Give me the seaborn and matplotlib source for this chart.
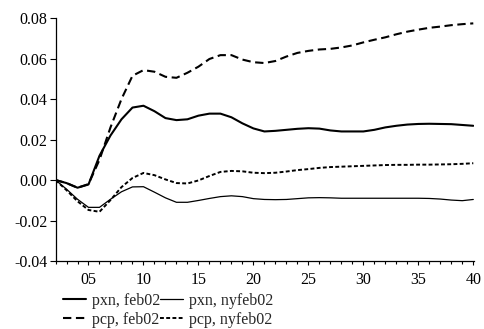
import numpy as np
import pandas as pd
import matplotlib
matplotlib.use("Agg")
import matplotlib.pyplot as plt
import seaborn as sns
from matplotlib.ticker import MultipleLocator, FixedLocator

horizon = list(range(2, 41))

pxn_feb02 = [0.0, -0.0015, -0.0038, -0.0022, 0.012, 0.022, 0.030, 0.0358, 0.0367, 0.034,
             0.0306, 0.0296, 0.030, 0.0318, 0.0328, 0.0328, 0.031, 0.028, 0.0255, 0.024,
             0.0243, 0.0248, 0.0253, 0.0256, 0.0254, 0.0245, 0.024, 0.024, 0.024, 0.0248,
             0.026, 0.0268, 0.0274, 0.0277, 0.0278, 0.0277, 0.0276, 0.0272, 0.0268]

pcp_feb02 = [0.0, -0.0015, -0.0038, -0.002, 0.010, 0.026, 0.040, 0.0515, 0.0543, 0.0535,
             0.051, 0.0505, 0.053, 0.056, 0.0598, 0.0617, 0.0617, 0.0595, 0.0582, 0.0578,
             0.0588, 0.061, 0.0628, 0.0638, 0.0645, 0.0648, 0.0655, 0.0665, 0.068, 0.0693,
             0.0705, 0.072, 0.0733, 0.0743, 0.0752, 0.0758, 0.0765, 0.0770, 0.0774]

pxn_nyfeb02 = [0.0, -0.0045, -0.0095, -0.0135, -0.0135, -0.0095, -0.0058, -0.0034, -0.0033, -0.006,
               -0.0088, -0.011, -0.011, -0.0101, -0.0091, -0.0082, -0.0078, -0.0082, -0.0092, -0.0096,
               -0.0097, -0.0096, -0.0092, -0.0088, -0.0087, -0.0088, -0.0090, -0.0090, -0.0090, -0.0090,
               -0.0090, -0.0090, -0.0090, -0.0090, -0.0091, -0.0094, -0.0099, -0.0102, -0.0096]

pcp_nyfeb02 = [0.0, -0.005, -0.0105, -0.0148, -0.0157, -0.0099, -0.0035, 0.001, 0.0035, 0.0024,
               0.0003, -0.0015, -0.0017, -0.0002, 0.002, 0.004, 0.0045, 0.0043, 0.0036, 0.0034,
               0.0036, 0.0042, 0.0049, 0.0054, 0.006, 0.0064, 0.0066, 0.0068, 0.007, 0.0072,
               0.0074, 0.0075, 0.0075, 0.0076, 0.0076, 0.0077, 0.0078, 0.008, 0.0083]

x_ticks = [5, 10, 15, 20, 25, 30, 35, 40]
x_tick_labels = ["05", "10", "15", "20", "25", "30", "35", "40"]
y_ticks = [-0.04, -0.02, 0.00, 0.02, 0.04, 0.06, 0.08]

sns.set_theme(style="ticks")
plt.rcParams["font.family"] = ["Liberation Serif", "DejaVu Serif"]

fig = plt.figure(figsize=(4.84, 3.29), dpi=100)
ax = fig.add_axes([0.1147, 0.2067, 0.8643, 0.7383])

sns.lineplot(x=horizon, y=pxn_feb02, ax=ax, color="black", lw=1.5,
             label="pxn, feb02")
sns.lineplot(x=horizon, y=pcp_feb02, ax=ax, color="black", lw=1.5,
             ls=(0, (4.0, 2.2)), label="pcp, feb02")
sns.lineplot(x=horizon, y=pxn_nyfeb02, ax=ax, color="black", lw=0.9,
             label="pxn, nyfeb02")
sns.lineplot(x=horizon, y=pcp_nyfeb02, ax=ax, color="black", lw=1.4,
             ls=(0, (2.0, 1.2)), label="pcp, nyfeb02")

ax.set_xlim(2, 40.05)
ax.set_ylim(-0.04, 0.08)
ax.xaxis.set_major_locator(FixedLocator(x_ticks))
ax.set_xticklabels(x_tick_labels)
ax.xaxis.set_minor_locator(MultipleLocator(1))
ax.set_yticks(y_ticks)
ax.set_yticklabels([f"{v:.2f}" for v in y_ticks])

ax.tick_params(axis="both", which="major", labelsize=11.5, color="black",
               labelcolor="black", width=0.8)
ax.tick_params(axis="y", which="major", length=4, pad=2)
ax.tick_params(axis="x", which="major", length=3, pad=5)
ax.tick_params(axis="x", which="minor", length=2.5, width=0.8, color="black")

for side in ("top", "right"):
    ax.spines[side].set_visible(False)
for side in ("left", "bottom"):
    ax.spines[side].set_color("black")
    ax.spines[side].set_linewidth(0.9)

ax.set_xlabel("")
ax.set_ylabel("")

leg = ax.legend(ncol=2, loc="upper left", bbox_to_anchor=(0.018, -0.13),
                frameon=False, fontsize=11.5, handlelength=1.45,
                handletextpad=0.35, columnspacing=0.0, labelspacing=0.22,
                borderpad=0.0, borderaxespad=0.0)

fig.savefig("out.png", dpi=100, facecolor="white")
